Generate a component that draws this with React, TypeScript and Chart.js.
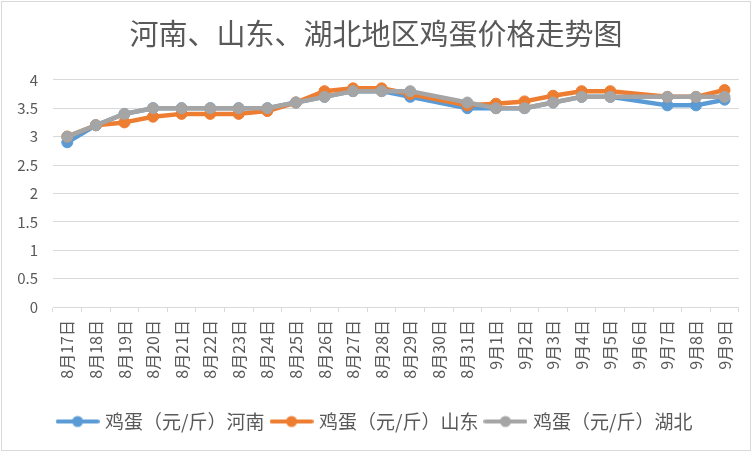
import { useEffect, useRef } from "react";
import { Chart, registerables } from "chart.js";

Chart.register(...registerables);

const chartTitle = "河南、山东、湖北地区鸡蛋价格走势图";
const categories = [
  "8月17日", "8月18日", "8月19日", "8月20日", "8月21日", "8月22日", "8月23日", "8月24日",
  "8月25日", "8月26日", "8月27日", "8月28日", "8月29日", "8月30日", "8月31日",
  "9月1日", "9月2日", "9月3日", "9月4日", "9月5日", "9月6日", "9月7日", "9月8日", "9月9日",
];
const henan = [2.9, 3.2, 3.4, 3.5, 3.5, 3.5, 3.5, 3.5, 3.6, 3.7, 3.8, 3.8, 3.7, null, 3.5, 3.5, 3.5, 3.6, 3.7, 3.7, null, 3.55, 3.55, 3.65];
const shandong = [3.0, 3.2, 3.25, 3.35, 3.4, 3.4, 3.4, 3.45, 3.6, 3.8, 3.85, 3.85, 3.75, null, 3.55, 3.58, 3.62, 3.72, 3.8, 3.8, null, 3.7, 3.7, 3.82];
const hubei = [3.0, 3.2, 3.4, 3.5, 3.5, 3.5, 3.5, 3.5, 3.6, 3.7, 3.8, 3.8, 3.8, null, 3.6, 3.5, 3.5, 3.6, 3.7, 3.7, null, 3.7, 3.7, 3.7];
const seriesNames = ["鸡蛋（元/斤）河南", "鸡蛋（元/斤）山东", "鸡蛋（元/斤）湖北"];
const seriesColors = ["#5B9BD5", "#ED7D31", "#A5A5A5"];
const yMin = 0;
const yMax = 4;
const yStep = 0.5;

const FONT = "'Noto Sans CJK SC', 'Noto Sans', sans-serif";
const TEXT = "#595959";
const GRID = "#d9d9d9";

function legendImage(color: string): HTMLCanvasElement {
  const c = document.createElement("canvas");
  c.width = 44;
  c.height = 14;
  const ctx = c.getContext("2d")!;
  ctx.strokeStyle = color;
  ctx.lineWidth = 4;
  ctx.lineCap = "round";
  ctx.beginPath();
  ctx.moveTo(2, 7);
  ctx.lineTo(42, 7);
  ctx.stroke();
  ctx.fillStyle = color;
  ctx.beginPath();
  ctx.arc(22, 7, 5.5, 0, Math.PI * 2);
  ctx.fill();
  return c;
}

export default function App() {
  const ref = useRef<HTMLCanvasElement | null>(null);

  useEffect(() => {
    if (!ref.current) return;
    const images = seriesColors.map(legendImage);
    const seriesData = [henan, shandong, hubei];
    const chart = new Chart(ref.current, {
      type: "line",
      data: {
        labels: categories,
        datasets: seriesData.map((d, i) => ({
          label: seriesNames[i],
          data: d,
          borderColor: seriesColors[i],
          backgroundColor: seriesColors[i],
          pointBackgroundColor: seriesColors[i],
          pointBorderColor: seriesColors[i],
          borderWidth: 4.5,
          pointRadius: 5.5,
          pointBorderWidth: 1,
          tension: 0,
          spanGaps: true,
          borderJoinStyle: "round" as const,
          order: 3 - i,
        })),
      },
      options: {
        responsive: false,
        animation: false,
        devicePixelRatio: 1,
        layout: { padding: { left: 12, right: 12, top: 0, bottom: 11 } },
        plugins: {
          tooltip: { enabled: false },
          title: {
            display: true,
            text: chartTitle,
            color: TEXT,
            font: { family: FONT, size: 29, weight: "normal" },
            padding: { top: 17, bottom: 28 },
          },
          legend: {
            position: "bottom",
            labels: {
              usePointStyle: true,
              pointStyleWidth: 36,
              boxHeight: 14,
              padding: 9,
              color: TEXT,
              font: { family: FONT, size: 19 },
              generateLabels: (c: any) =>
                c.data.datasets.map((ds: any, i: number) => ({
                  text: ds.label,
                  pointStyle: images[i],
                  fillStyle: seriesColors[i],
                  strokeStyle: seriesColors[i],
                  lineWidth: 0,
                  hidden: false,
                  datasetIndex: i,
                  fontColor: TEXT,
                })),
            },
          },
        },
        scales: {
          x: {
            offset: true,
            grid: { display: true, offset: true, drawOnChartArea: false, drawTicks: true, tickLength: 5, color: GRID },
            border: { display: true, color: GRID },
            ticks: {
              autoSkip: false,
              minRotation: 90,
              maxRotation: 90,
              padding: 8,
              color: TEXT,
              font: { family: FONT, size: 16 },
            },
            afterFit: (s: any) => {
              s.height = 96;
            },
          },
          y: {
            min: yMin,
            max: yMax,
            grid: { color: GRID, drawTicks: false },
            border: { display: false },
            ticks: {
              stepSize: yStep,
              padding: 15,
              color: TEXT,
              font: { family: FONT, size: 15 },
              callback: (v: any) => String(v),
            },
            afterFit: (s: any) => {
              s.width = 41;
            },
          },
        },
      },
    });
    return () => chart.destroy();
  }, []);

  return (
    <div style={{ position: "absolute", left: 0, top: 0, width: 752, height: 452, background: "#fff" }}>
      <canvas ref={ref} width={752} height={452} style={{ display: "block", width: 752, height: 452 }} />
      <div
        style={{
          position: "absolute",
          left: 1,
          top: 1,
          width: 748,
          height: 448,
          border: "1px solid #d9d9d9",
          pointerEvents: "none",
        }}
      />
    </div>
  );
}
